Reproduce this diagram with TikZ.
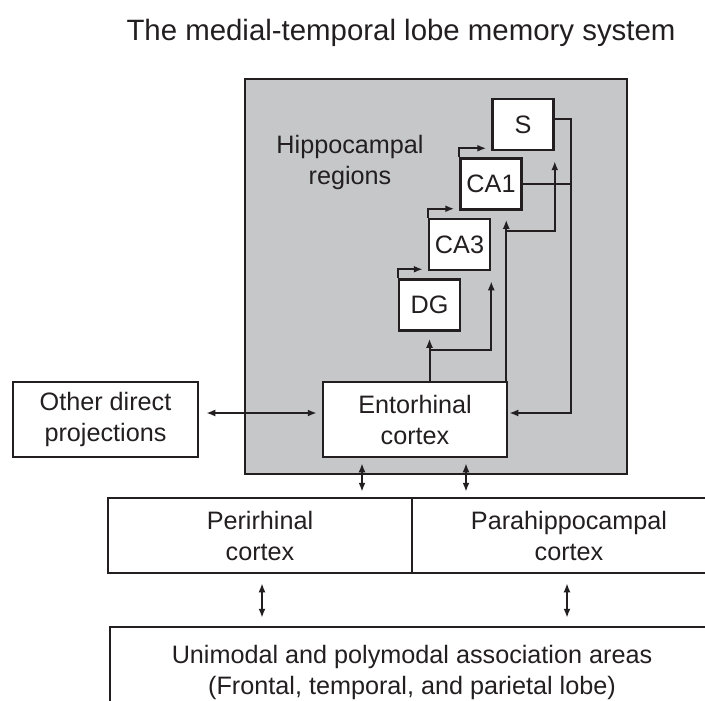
\documentclass[tikz,border=0pt]{standalone}
\usepackage{fontspec}
\setmainfont{Liberation Sans}
\usepackage{tikz}
\usetikzlibrary{positioning, arrows.meta, calc}
\definecolor{gris}{RGB}{197, 199, 201}
\definecolor{tinta}{RGB}{35, 31, 32}
\tikzset{
    area/.style={draw=tinta, fill=white, line width=1.25pt, text=tinta, align=center, inner sep=0pt},
    sub/.style={area, minimum width=30.5pt, minimum height=25.5pt},
    conn/.style={tinta, line width=1pt, -{Latex[length=4.5pt, width=3.5pt]}},
    bidir/.style={conn, {Latex[length=4.5pt, width=3.5pt]}-{Latex[length=4.5pt, width=3.5pt]}, shorten <=2.5pt, shorten >=2.5pt},
}
\begin{document}
\begin{tikzpicture}[
        x=0.5pt, y=-0.5pt,
        font=\fontsize{12.6}{15.5}\selectfont,
        ]
        \useasboundingbox (0,0) rectangle (705,700);

        \node [text=tinta, font=\fontsize{14.7}{18}\selectfont] (title) at (401,33) {The medial-temporal lobe memory system};

        \node [area, fill=gris, minimum width=191pt, minimum height=197.5pt] (hip) at (436,276.5) {};
        \node [text=tinta, align=center] (hiplab) at (350,162) {Hippocampal\\regions};

        \node [sub] (S) at (523,124.5) {S};
        \node [sub] (CA1) at (491,184) {CA1};
        \node [sub] (CA3) at (459.5,244.5) {CA3};
        \node [sub] (DG) at (429.5,305) {DG};

        \node [area, minimum width=92pt, minimum height=37.5pt] (ento) at (415,419.5) {Entorhinal\\cortex};
        \node [area, minimum width=92.5pt, minimum height=37.5pt] (other) at (105.5,419.5) {Other direct\\projections};

        \node [area, minimum width=152pt, minimum height=37.5pt] (peri) at (260,535.5) {Perirhinal\\cortex};
        \node [area, minimum width=157pt, minimum height=37.5pt] (para) at (569,535.5) {Parahippocampal\\cortex};
        \node [area, minimum width=302pt, minimum height=45pt] (assoc) at (412,672) {Unimodal and polymodal association areas\\(Frontal, temporal, and parietal lobe)};

        \draw[conn, shorten >=2.5pt] (DG.north west) |- ([yshift=1pt]CA3.south west);
        \draw[conn, shorten >=2.5pt] (CA3.north west) |- ([yshift=1pt]CA1.south west);
        \draw[conn, shorten >=2.5pt] (CA1.north west) |- ([yshift=1.5pt]S.south west);

        \draw[conn, shorten >=0.5pt] ([yshift=2.75pt]S.east) -- ++(16,0) coordinate (sret) |- ([yshift=3.25pt]ento.east);
        \draw[conn, -] (CA1.east) -- (CA1.east -| sret);

        \path (DG.south) ++(0,18) coordinate (dgj);
        \path ([xshift=-1pt]ento.north east) coordinate (eca);
        \path (CA1.south) ++(0,20) coordinate (caj);
        \draw[conn, shorten >=3.5pt] (DG.south |- ento.north) -- (DG.south);
        \draw[conn, shorten >=5pt] (dgj) -| (CA3.south east);
        \draw[conn, shorten >=4.5pt] (eca) -- (eca |- CA1.south);
        \draw[conn, shorten >=5pt] (eca |- caj) -| (S.south east);

        \draw[bidir, shorten <=3.5pt] ([yshift=3.25pt]other.east) -- ([yshift=3.25pt]ento.west);
        \draw[bidir] ([xshift=-26.5pt]ento.south) -- ([xshift=-26.5pt]ento.south |- peri.north);
        \draw[bidir] ([xshift=25.5pt]ento.south) -- ([xshift=25.5pt]ento.south |- para.north);
        \draw[bidir, shorten <=4.5pt, shorten >=4pt] ([xshift=1pt]peri.south) -- ([xshift=1pt]peri.south |- assoc.north);
        \draw[bidir, shorten <=4.5pt, shorten >=4pt] ([xshift=-1pt]para.south) -- ([xshift=-1pt]para.south |- assoc.north);
\end{tikzpicture}
\end{document}
